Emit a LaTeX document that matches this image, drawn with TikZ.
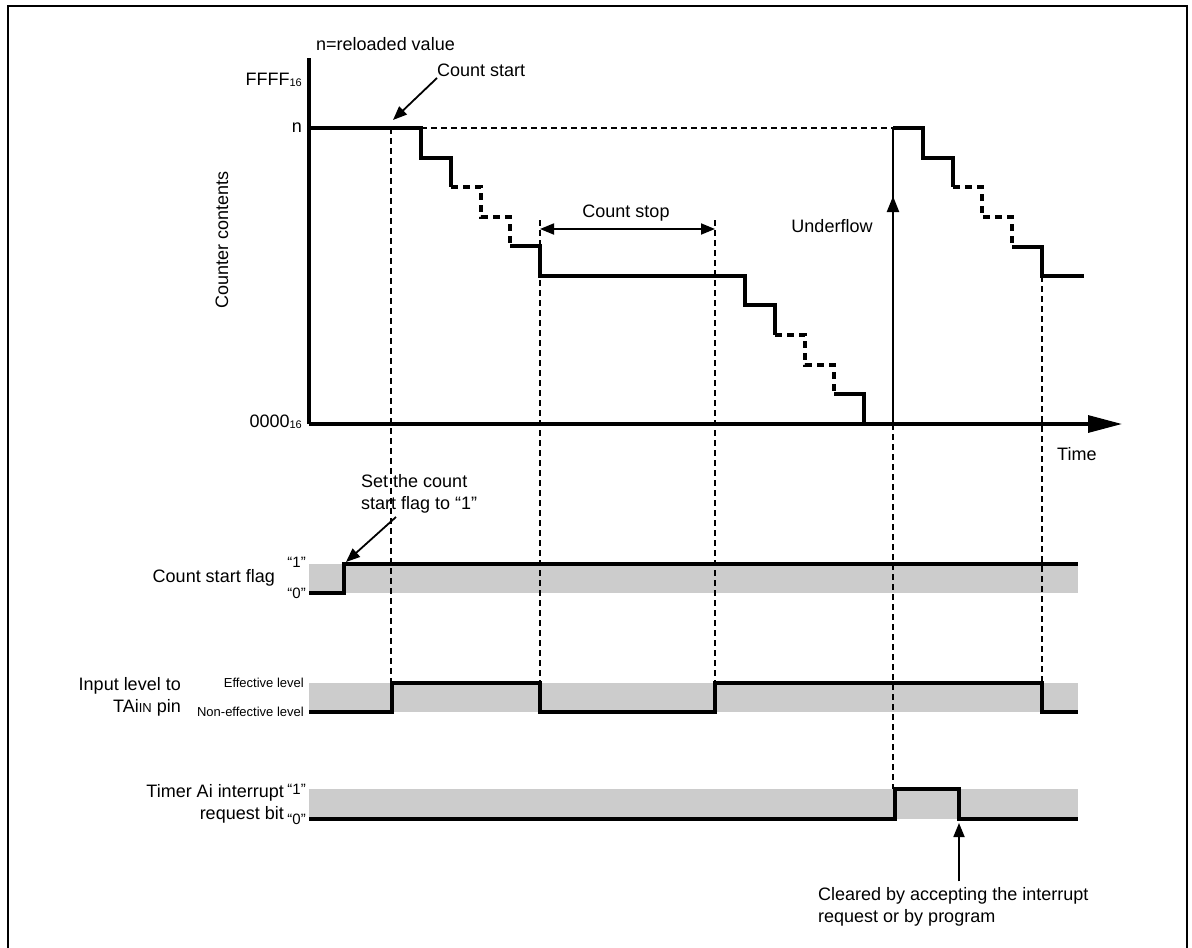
\documentclass[tikz,border=0pt]{standalone}
\usepackage{fontspec}
\setmainfont{Liberation Sans}
\usetikzlibrary{arrows.meta,decorations.markings}
\begin{document}
\begin{tikzpicture}[x=1pt,y=-1pt,
  lbl/.style={font=\fontsize{18}{22}\selectfont, inner sep=0pt},
  sml/.style={font=\fontsize{13}{15}\selectfont, inner sep=0pt},
  qt/.style={font=\fontsize{15}{15}\selectfont, inner sep=0pt},
  sig/.style={line width=3.2pt, line join=miter},
  dsig/.style={line width=3.2pt, dash pattern=on 7pt off 5pt},
  guide/.style={line width=1.5pt, dash pattern=on 6pt off 4pt},
  band/.style={fill=black!20, draw=none},
  pointer/.style={line width=1.8pt, -{Triangle[length=14pt,width=11pt]}},
]
\useasboundingbox (0,0) rectangle (1192,948);
% frame
\draw[line width=2.2pt] (8,952) -- (8,6) -- (1187,6) -- (1187,952);

% bands
\fill[band] (309,564) rectangle (1078,593);
\fill[band] (309,683) rectangle (1078,712);
\fill[band] (309,789) rectangle (1078,819);

% guides
\draw[guide] (391,128) -- (391,683);
\draw[guide] (540,220) -- (540,712);
\draw[guide] (715,220) -- (715,712);
\draw[guide] (893,424) -- (893,789);
\draw[guide] (1042,276) -- (1042,712);
\draw[guide] (421,128) -- (893,128);

% axes
\draw[line width=3.2pt] (309,58) -- (309,424);
\draw[line width=3.2pt, -{Triangle[length=34pt,width=17pt]}] (309,424) -- (1122,424);

% staircase 1
\draw[sig] (309,128) -- (421,128) -- (421,158) -- (451,158) -- (451,187);
\draw[dsig] (451,187) -- (481,187) -- (481,217) -- (510,217) -- (510,246);
\draw[sig] (510,246) -- (540,246) -- (540,276) -- (745,276) -- (745,305) -- (775,305) -- (775,335);
\draw[dsig] (775,335) -- (805,335) -- (805,365) -- (834,365) -- (834,394);
\draw[sig] (834,394) -- (864,394) -- (864,424);
% underflow
\draw[line width=2.4pt, postaction={decorate}, decoration={markings, mark=at position 0.77 with {\arrow{Triangle[length=16pt,width=12pt]}}}] (893,424) -- (893,128);
\draw[sig] (893,128) -- (923,128) -- (923,158) -- (953,158) -- (953,187);
\draw[dsig] (953,187) -- (982,187) -- (982,217) -- (1012,217) -- (1012,247);
\draw[sig] (1012,247) -- (1042,247) -- (1042,276) -- (1084,276);

% signals
\draw[sig] (309,593) -- (344,593) -- (344,564) -- (1078,564);
\draw[sig] (309,712) -- (392,712) -- (392,683) -- (540,683) -- (540,712) -- (715,712) -- (715,683) -- (1042,683) -- (1042,712) -- (1078,712);
\draw[sig] (309,819) -- (895,819) -- (895,789) -- (959,789) -- (959,819) -- (1078,819);

% labels
\node[lbl, anchor=west] (nrel) at (316,44) {n=reloaded value};
\node[lbl, anchor=east] (ffff) at (302,80) {FFFF\raisebox{-1pt}{\fontsize{11}{11}\selectfont 16}};
\node[lbl, anchor=east] (nlab) at (302,128) {n};
\node[lbl, anchor=east] (zero) at (302,422) {0000\raisebox{-1pt}{\fontsize{11}{11}\selectfont 16}};
\node[lbl, rotate=90] (cc) at (222,240) {Counter contents};
\node[lbl, anchor=west] (cstart) at (437,70) {Count start};
\node[lbl] (cstop) at (626,213) {Count stop};
\node[lbl] (uflow) at (832,226) {Underflow};
\node[lbl, anchor=west] (time) at (1057,454) {Time};
\node[lbl, anchor=west, align=left] (setflag) at (361,494) {Set the count\\start flag to “1”};
\node[lbl, anchor=east] (csf) at (275,578) {Count start flag};
\node[qt, anchor=east] (f1) at (306,562) {“1”};
\node[qt, anchor=east] (f0) at (306,593) {“0”};
\node[lbl, anchor=east, align=right] (inlev) at (181,697) {Input level to\\TAi{\fontsize{13}{13}\selectfont IN} pin};
\node[sml, anchor=east] (eff) at (304,683) {Effective level};
\node[sml, anchor=east] (neff) at (304,712) {Non-effective level};
\node[lbl, anchor=east, align=right] (tai) at (284,804) {Timer Ai interrupt\\request bit};
\node[qt, anchor=east] (t1) at (306,789) {“1”};
\node[qt, anchor=east] (t0) at (306,819) {“0”};
\node[lbl, anchor=west, align=left] (clr) at (818,907) {Cleared by accepting the interrupt\\request or by program};

% pointer targets
\coordinate (cstip) at (393,120);
\coordinate (sftip) at (346,562);
\coordinate (clrtip) at (959,823);
\coordinate (stopL) at (540,229);
\coordinate (stopR) at (715,229);

\draw[pointer] (cstart.west) ++(0,8) -- (cstip);
\draw[pointer] (396,517) -- (sftip);
\draw[pointer] (clr.north -| clrtip) ++(0,-6) -- (clrtip);
\draw[line width=1.8pt, {Triangle[length=14pt,width=11pt]}-{Triangle[length=14pt,width=11pt]}] (stopL) -- (stopR);
\end{tikzpicture}
\end{document}
